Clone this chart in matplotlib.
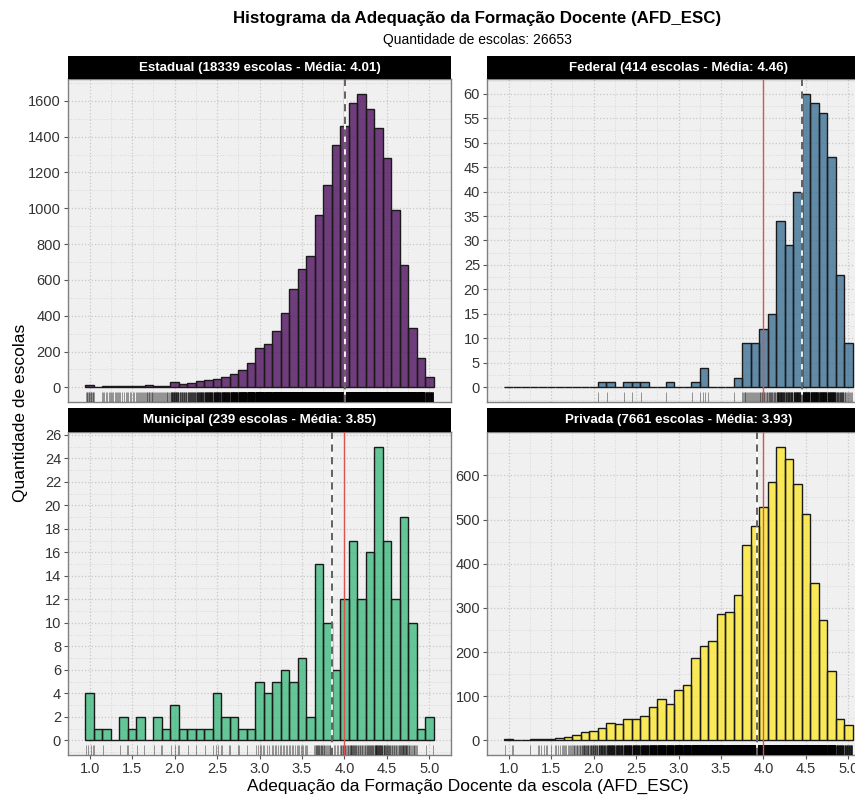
import numpy as np
import matplotlib
matplotlib.use('Agg')
import matplotlib.pyplot as plt
from matplotlib.ticker import MultipleLocator

plt.rcParams['font.family'] = ['Liberation Sans', 'DejaVu Sans']

# bin centres of the histogram (width 0.1)
bin_centres = np.round(np.arange(1.0, 5.01, 0.1), 1)

redes = ['Estadual', 'Federal', 'Municipal', 'Privada']
n_escolas = [18339, 414, 239, 7661]
medias = [4.01, 4.46, 3.85, 3.93]
total_escolas = 26653

estadual = [12, 2, 6, 8, 5, 6, 8, 12, 8, 10,
            28, 20, 24, 33, 41, 46, 56, 74, 98, 135,
            218, 242, 316, 414, 551, 662, 736, 964, 1128, 1352,
            1457, 1587, 1640, 1553, 1446, 1282, 990, 683, 333, 161, 56]
federal = [0, 0, 0, 0, 0, 0, 0, 0, 0, 0,
           0, 1, 1, 0, 1, 1, 1, 0, 0, 1,
           0, 0, 1, 4, 0, 0, 0, 2, 9, 9,
           12, 15, 34, 29, 40, 60, 58, 56, 47, 23, 9]
municipal = [4, 1, 1, 0, 2, 1, 2, 0, 2, 1,
             3, 1, 1, 1, 1, 4, 2, 2, 1, 1,
             5, 4, 5, 6, 5, 7, 2, 15, 10, 6,
             12, 17, 12, 16, 25, 17, 12, 19, 10, 1, 2]
privada = [2, 1, 0, 2, 4, 3, 5, 8, 11, 18,
           20, 28, 39, 37, 49, 48, 56, 75, 93, 83,
           114, 126, 186, 214, 226, 285, 291, 328, 442, 485,
           529, 586, 665, 636, 581, 512, 356, 272, 156, 48, 35]
contagens = [estadual, federal, municipal, privada]

y_major = [200, 5, 2, 100]
cores = ['#440154', '#31688E', '#35B779', '#FDE725']

W, H = 855, 796
fig = plt.figure(figsize=(W / 100, H / 100), dpi=100)

# panel boxes in pixels: (left, top, right, bottom); the right column runs
# past the image edge, as in the cropped original
paineis = [(68, 79, 451, 402), (487, 79, 870, 402),
           (68, 432, 451, 755), (487, 432, 870, 755)]
strips = [(56, 79), (56, 79), (408, 432), (408, 432)]


def px_box(l, t, r, b):
    return [l / W, 1 - b / H, (r - l) / W, (b - t) / H]


for i, rede in enumerate(redes):
    l, t, r, b = paineis[i]
    ax = fig.add_axes(px_box(l, t, r, b))
    ax.set_facecolor('#F0F0F0')
    counts = np.array(contagens[i])
    ymax = counts.max()

    ax.bar(bin_centres, counts, width=0.1, color=cores[i], alpha=0.75,
           edgecolor='none', zorder=3)
    ax.bar(bin_centres, counts, width=0.1, color='none',
           edgecolor='#1a1a1a', linewidth=1.0, zorder=4)

    # rug: spread each bin's schools over the bin
    rug = np.concatenate([np.linspace(c - 0.045, c + 0.045, n)
                          for c, n in zip(bin_centres, counts) if n > 0])
    ax.vlines(rug, 0, 0.03, transform=ax.get_xaxis_transform(),
              color='black', alpha=0.45, linewidth=0.6, zorder=3)

    ax.axvline(4.0, color='#D9534F', linewidth=1.0, zorder=5)
    ax.axvline(medias[i], color='white', linewidth=1.3, zorder=5)
    ax.axvline(medias[i], color='#555555', linewidth=1.3,
               dashes=(4, 3), zorder=6)

    ax.set_xlim(0.745, 5.255)
    ax.set_ylim(-0.05 * ymax, 1.05 * ymax)
    ax.xaxis.set_major_locator(MultipleLocator(0.5))
    ax.xaxis.set_minor_locator(MultipleLocator(0.25))
    ax.yaxis.set_major_locator(MultipleLocator(y_major[i]))
    ax.yaxis.set_minor_locator(MultipleLocator(y_major[i] / 2))
    ax.grid(which='major', color='#C8C8C8', linestyle=':', linewidth=0.9,
            zorder=0)
    ax.grid(which='minor', color='#D8D8D8', linestyle=':', linewidth=0.7,
            zorder=0)
    ax.set_axisbelow(True)
    ax.tick_params(which='major', length=3, color='#555555',
                   labelcolor='#333333', labelsize=10.5, pad=2)
    ax.tick_params(which='minor', length=0)
    if i < 2:
        ax.tick_params(axis='x', labelbottom=False, length=0)
    else:
        ax.xaxis.set_major_formatter(plt.FuncFormatter(lambda v, p: f'{v:.1f}'))
    for sp in ax.spines.values():
        sp.set_color('#808080')
        sp.set_linewidth(1.0)

    # facet strip
    st, sb = strips[i]
    sax = fig.add_axes(px_box(l, st, r, sb))
    sax.set_facecolor('black')
    sax.set_xticks([])
    sax.set_yticks([])
    for sp in sax.spines.values():
        sp.set_visible(False)
    sax.text(0.5, 0.5,
             f'{rede} ({n_escolas[i]} escolas - Média: {medias[i]:.2f})',
             color='white', fontsize=9.6, fontweight='bold',
             ha='center', va='center', transform=sax.transAxes)

fig.text(477 / W, 1 - 18 / H,
         'Histograma da Adequação da Formação Docente (AFD_ESC)',
         ha='center', va='center', fontsize=12.2, fontweight='bold')
fig.text(477 / W, 1 - 40 / H, f'Quantidade de escolas: {total_escolas}',
         ha='center', va='center', fontsize=10)
fig.text(468 / W, 1 - 786 / H,
         'Adequação da Formação Docente da escola (AFD_ESC)',
         ha='center', va='center', fontsize=12.5)
fig.text(21 / W, 1 - 413 / H, 'Quantidade de escolas', rotation=90,
         ha='center', va='center', fontsize=12.5)

fig.savefig('out.png', dpi=100)
